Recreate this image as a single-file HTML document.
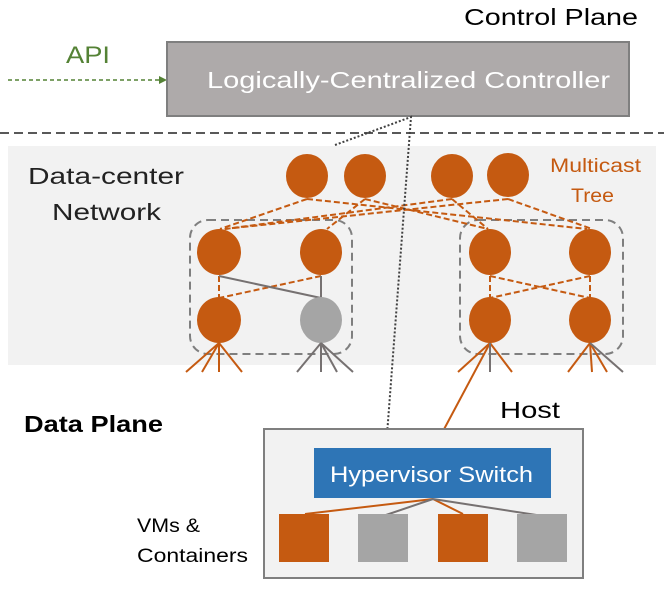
<!DOCTYPE html>
<html><head><style>
body{margin:0;background:#fff;}
svg text{font-family:"Liberation Sans",sans-serif;}
</style></head><body>
<svg width="664" height="584" xmlns="http://www.w3.org/2000/svg">
<rect x="8" y="146" width="648" height="219" fill="#f2f2f2"/>
<text x="464" y="25" font-size="23" textLength="174" lengthAdjust="spacingAndGlyphs" fill="#000">Control Plane</text>
<text x="66" y="63" font-size="24" textLength="44" lengthAdjust="spacingAndGlyphs" fill="#548235">API</text>
<line x1="8" y1="80" x2="160" y2="80" stroke="#548235" stroke-width="1.5" stroke-dasharray="4,3"/>
<polygon points="167,80 159,76 159,84" fill="#548235"/>
<rect x="167" y="42" width="462" height="74" fill="#aeaaaa" stroke="#7f7f7f" stroke-width="2"/>
<text x="207" y="88" font-size="23" textLength="403" lengthAdjust="spacingAndGlyphs" fill="#fff">Logically-Centralized Controller</text>
<line x1="0" y1="133" x2="664" y2="133" stroke="#595959" stroke-width="2" stroke-dasharray="9,5"/>
<text x="28" y="184" font-size="23" textLength="156" lengthAdjust="spacingAndGlyphs" fill="#222">Data-center</text>
<text x="52" y="220" font-size="23" textLength="109" lengthAdjust="spacingAndGlyphs" fill="#222">Network</text>
<text x="550" y="172" font-size="19" textLength="91" lengthAdjust="spacingAndGlyphs" fill="#c55a11">Multicast</text>
<text x="571" y="202" font-size="19" textLength="43" lengthAdjust="spacingAndGlyphs" fill="#c55a11">Tree</text>
<rect x="190" y="220" width="162" height="134" rx="18" fill="none" stroke="#7f7f7f" stroke-width="2" stroke-dasharray="8,5"/>
<rect x="460" y="220" width="163" height="134" rx="18" fill="none" stroke="#7f7f7f" stroke-width="2" stroke-dasharray="8,5"/>
<g stroke="#c55a11" stroke-width="2" stroke-dasharray="6,3" fill="none">
<line x1="307" y1="199" x2="220" y2="229"/><line x1="307" y1="199" x2="587" y2="229"/>
<line x1="365" y1="199" x2="327" y2="229"/><line x1="365" y1="199" x2="488" y2="229"/>
<line x1="452" y1="199" x2="225" y2="229"/><line x1="452" y1="199" x2="488" y2="229"/>
<line x1="508" y1="199" x2="224" y2="229"/><line x1="508" y1="199" x2="592" y2="229"/>
<line x1="219" y1="276" x2="219" y2="298"/><line x1="321" y1="276" x2="219" y2="298"/>
<line x1="490" y1="276" x2="490" y2="298"/><line x1="590" y1="276" x2="590" y2="298"/>
<line x1="490" y1="276" x2="590" y2="298"/><line x1="590" y1="276" x2="490" y2="298"/>
</g>
<g stroke="#767171" stroke-width="2"><line x1="219" y1="276" x2="321" y2="298"/><line x1="321" y1="276" x2="321" y2="298"/></g>
<g fill="#c55a11">
<ellipse cx="307" cy="176" rx="21" ry="22"/><ellipse cx="365" cy="176" rx="21" ry="22"/>
<ellipse cx="452" cy="176" rx="21" ry="22"/><ellipse cx="508" cy="175" rx="21" ry="22"/>
<ellipse cx="219" cy="252" rx="22" ry="23"/><ellipse cx="321" cy="252" rx="21" ry="23"/>
<ellipse cx="490" cy="252" rx="21" ry="23"/><ellipse cx="590" cy="252" rx="21" ry="23"/>
<ellipse cx="219" cy="320" rx="22" ry="23"/><ellipse cx="490" cy="320" rx="21" ry="23"/><ellipse cx="590" cy="320" rx="21" ry="23"/>
</g>
<ellipse cx="321" cy="320" rx="21" ry="23" fill="#a5a5a5"/>
<g stroke="#c55a11" stroke-width="2">
<line x1="219" y1="343" x2="186" y2="372"/><line x1="219" y1="343" x2="202" y2="372"/><line x1="219" y1="343" x2="219" y2="372"/><line x1="219" y1="343" x2="242" y2="372"/>
<line x1="490" y1="343" x2="458" y2="372"/><line x1="490" y1="343" x2="512" y2="372"/>
<line x1="590" y1="343" x2="568" y2="372"/><line x1="590" y1="343" x2="592" y2="372"/><line x1="590" y1="343" x2="607" y2="372"/>
<line x1="434" y1="448" x2="490" y2="343"/>
</g>
<g stroke="#767171" stroke-width="2">
<line x1="321" y1="343" x2="297" y2="372"/><line x1="321" y1="343" x2="321" y2="372"/><line x1="321" y1="343" x2="337" y2="372"/><line x1="321" y1="343" x2="353" y2="372"/>
<line x1="490" y1="343" x2="490" y2="372"/><line x1="590" y1="343" x2="623" y2="372"/>
</g>
<g stroke="#404040" stroke-width="2" stroke-dasharray="2,2" fill="none">
<polyline points="335,145 411,117 386,448"/>
</g>
<text x="24" y="432" font-size="23" font-weight="bold" textLength="139" lengthAdjust="spacingAndGlyphs" fill="#000">Data Plane</text>
<text x="500" y="418" font-size="23" textLength="60" lengthAdjust="spacingAndGlyphs" fill="#000">Host</text>
<rect x="264" y="429" width="319" height="149" fill="#f2f2f2" stroke="#7f7f7f" stroke-width="2"/>
<rect x="314" y="448" width="237" height="50" fill="#2e75b6"/>
<text x="330" y="482" font-size="22" textLength="203" lengthAdjust="spacingAndGlyphs" fill="#fff">Hypervisor Switch</text>
<g stroke-width="2">
<line x1="433" y1="499" x2="305" y2="514" stroke="#c55a11"/>
<line x1="433" y1="499" x2="463" y2="514" stroke="#c55a11"/>
<line x1="433" y1="499" x2="383" y2="516" stroke="#767171"/>
<line x1="433" y1="499" x2="543" y2="516" stroke="#767171"/>
</g>
<rect x="279" y="514" width="50" height="48" fill="#c55a11"/>
<rect x="358" y="514" width="50" height="48" fill="#a5a5a5"/>
<rect x="438" y="514" width="50" height="48" fill="#c55a11"/>
<rect x="517" y="514" width="50" height="48" fill="#a5a5a5"/>
<text x="137" y="532" font-size="19" textLength="63" lengthAdjust="spacingAndGlyphs" fill="#000">VMs &amp;</text>
<text x="137" y="562" font-size="19" textLength="111" lengthAdjust="spacingAndGlyphs" fill="#000">Containers</text>
</svg>
</body></html>
